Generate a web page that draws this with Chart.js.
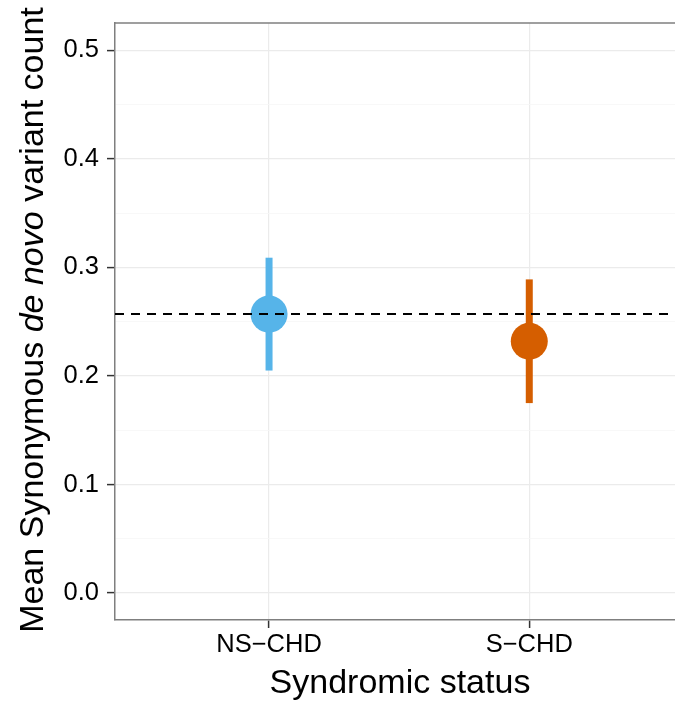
<!DOCTYPE html>
<html>
<head>
<meta charset="utf-8">
<script src="https://cdn.jsdelivr.net/npm/chart.js@4.4.0/dist/chart.umd.min.js"></script>
<style>
  html, body { margin: 0; padding: 0; background: #fff; }
  #wrap { width: 675px; height: 705px; }
</style>
</head>
<body>
<div id="wrap"><canvas id="chart"></canvas></div>
<script>
// values
const categories = ["NS\u2212CHD", "S\u2212CHD"];
const means = [0.257, 0.232];
const lower = [0.205, 0.175];
const upper = [0.309, 0.289];
const refLine = 0.257;
const yTicks = [0, 0.1, 0.2, 0.3, 0.4, 0.5];
const colors = ["#56b4e9", "#d55e00"];

const FONT = "'Liberation Sans', Arial, Helvetica, sans-serif";
const xMin = 0.408, xMax = 2.56;
const yMin = -0.0249, yMax = 0.5253;

// major + minor y gridlines
const yGrid = [];
yTicks.forEach((t, i) => {
  yGrid.push(t);
  if (i < yTicks.length - 1) yGrid.push(+(t + (yTicks[i + 1] - t) / 2).toFixed(3));
});
const isMajor = v => yTicks.some(t => Math.abs(t - v) < 1e-6);

const datasets = [];
// dashed reference line (drawn on top)
datasets.push({
  type: "line",
  data: [{ x: xMin, y: refLine }, { x: xMax, y: refLine }],
  borderColor: "#000",
  borderWidth: 2,
  borderDash: [9, 7],
  pointRadius: 0,
  order: 0
});
// points
datasets.push({
  type: "scatter",
  data: means.map((m, i) => ({ x: i + 1, y: m })),
  pointRadius: 18.5,
  pointHoverRadius: 18.5,
  pointBackgroundColor: colors,
  pointBorderWidth: 0,
  borderWidth: 0,
  order: 1
});
// error bars
categories.forEach((c, i) => {
  datasets.push({
    type: "line",
    data: [{ x: i + 1, y: lower[i] }, { x: i + 1, y: upper[i] }],
    borderColor: colors[i],
    borderWidth: 7,
    borderCapStyle: "butt",
    pointRadius: 0,
    order: 2
  });
});

const decorations = {
  id: "decorations",
  afterDatasetsDraw(chart) {
    const { ctx, chartArea } = chart;
    ctx.save();
    // top panel border
    ctx.strokeStyle = "#7f7f7f";
    ctx.lineWidth = 1.5;
    ctx.beginPath();
    ctx.moveTo(chartArea.left, chartArea.top);
    ctx.lineTo(chartArea.right, chartArea.top);
    ctx.stroke();
    ctx.restore();
  },
  afterDraw(chart) {
    const { ctx } = chart;
    ctx.save();
    ctx.fillStyle = "#000";
    // x title
    ctx.font = "34px " + FONT;
    ctx.textAlign = "center";
    ctx.textBaseline = "alphabetic";
    ctx.fillText("Syndromic status", 400, 693);
    // y title with italic part
    const parts = [
      ["Mean Synonymous ", "normal"],
      ["de novo", "italic"],
      [" variant count", "normal"]
    ];
    let total = 0;
    parts.forEach(p => {
      ctx.font = p[1] + " 34px " + FONT;
      total += ctx.measureText(p[0]).width;
    });
    ctx.translate(43, 320);
    ctx.rotate(-Math.PI / 2);
    ctx.textAlign = "left";
    let x = -total / 2;
    parts.forEach(p => {
      ctx.font = p[1] + " 34px " + FONT;
      ctx.fillText(p[0], x, 0);
      x += ctx.measureText(p[0]).width;
    });
    ctx.restore();
  }
};

new Chart(document.getElementById("chart"), {
  data: { datasets },
  options: {
    responsive: true,
    maintainAspectRatio: false,
    animation: false,
    layout: { autoPadding: false, padding: { left: 0, top: 23, right: 0, bottom: 0 } },
    plugins: { legend: { display: false }, tooltip: { enabled: false } },
    scales: {
      x: {
        type: "linear",
        min: xMin,
        max: xMax,
        afterBuildTicks: s => { s.ticks = categories.map((c, i) => ({ value: i + 1 })); },
        afterFit: s => { s.height = 85; s.paddingLeft = 0; s.paddingRight = 0; },
        grid: { color: "#ebebeb", lineWidth: 1.2, tickLength: 8, tickColor: "#333", tickWidth: 1.5 },
        border: { color: "#7f7f7f", width: 1.5 },
        ticks: {
          padding: 2,
          color: "#000",
          maxRotation: 0,
          font: { family: FONT, size: 25.5 },
          callback: v => categories[Math.round(v) - 1]
        }
      },
      y: {
        type: "linear",
        min: yMin,
        max: yMax,
        afterBuildTicks: s => { s.ticks = yGrid.map(v => ({ value: v })); },
        afterFit: s => { s.width = 115; s.paddingTop = 0; s.paddingBottom = 0; },
        grid: {
          color: c => isMajor(c.tick.value) ? "#ebebeb" : "#f6f6f6",
          lineWidth: c => isMajor(c.tick.value) ? 1.2 : 0.8,
          tickLength: 8,
          tickColor: c => isMajor(c.tick.value) ? "#333" : "rgba(0,0,0,0)",
          tickWidth: 1.5
        },
        border: { color: "#7f7f7f", width: 1.5 },
        ticks: {
          autoSkip: false,
          padding: 8,
          color: "#000",
          font: { family: FONT, size: 25.5 },
          callback: v => isMajor(v) ? v.toFixed(1) : ""
        }
      }
    }
  },
  plugins: [decorations]
});
</script>
</body>
</html>
